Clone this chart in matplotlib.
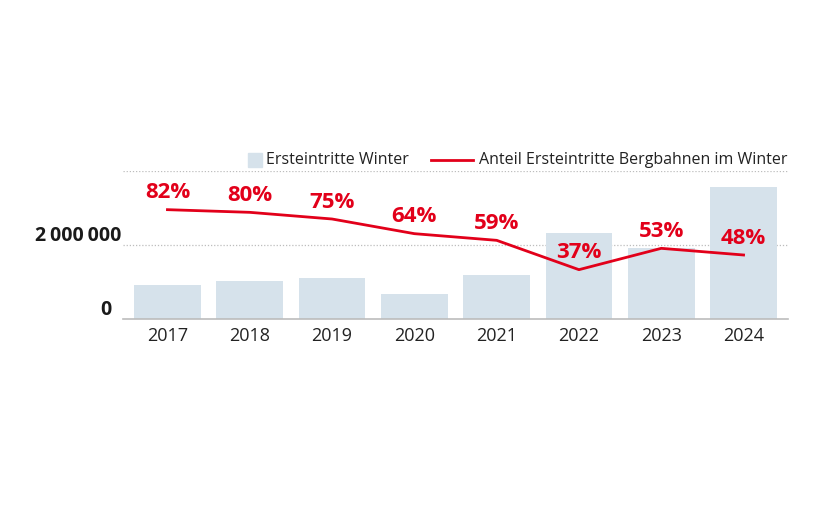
import matplotlib.pyplot as plt
from matplotlib.patches import Rectangle
from matplotlib.lines import Line2D

plt.rcParams['font.family'] = ['Open Sans', 'DejaVu Sans']

years = ['2017', '2018', '2019', '2020', '2021', '2022', '2023', '2024']
entries = [920000, 1030000, 1100000, 670000, 1190000, 2320000, 1910000, 3560000]
share = [82, 80, 75, 64, 59, 37, 53, 48]
yticks = [0, 2000000, 4000000]
ytick_labels = ['0', '2\u2009000\u2009000', '']

RED = '#e2001a'
BAR = '#d6e2eb'
W, H = 820, 513

fig = plt.figure(figsize=(8.2, 5.13), dpi=100)
ax = fig.add_axes([123 / W, 1 - 319 / H, (788 - 123) / W, (319 - 171) / H])
x = list(range(len(years)))

ax.bar(x, entries, width=0.81, color=BAR, zorder=2)
ax.set_xlim(-0.54, 7.54)
ax.set_ylim(0, 4000000)

for s in ['top', 'right', 'left']:
    ax.spines[s].set_visible(False)
ax.spines['bottom'].set_color('#bcbcbc')
ax.spines['bottom'].set_linewidth(1.2)

ax.set_xticks(x)
ax.set_xticklabels(years, fontsize=13, color='#222222')
ax.tick_params(axis='x', length=0, pad=6)
ax.set_yticks([])

for v, lab in zip(yticks, ytick_labels):
    if v > 0:
        ax.axhline(v, color='#bdbdbd', lw=0.9, ls=(0, (1, 1.5)), zorder=1)
    if lab:
        ax.annotate(lab, (0, v), xycoords=('axes fraction', 'data'),
                    xytext=(-2 if v else -11, -1), textcoords='offset pixels',
                    ha='right', va='bottom', fontsize=14,
                    fontweight='bold', color='#1a1a1a')

ax2 = ax.twinx()
ax2.set_ylim(0, 111)
ax2.set_axis_off()
ax2.plot(x, share, color=RED, lw=2, zorder=3)
for xi, p in zip(x, share):
    ax2.annotate(f'{p}%', (xi, p), xytext=(0, 17), textcoords='offset pixels',
                 ha='center', va='center', fontsize=16, fontweight='bold',
                 color=RED)

# legend, drawn by hand above the top gridline
ly = 1 - 160 / H
fig.patches.append(Rectangle((248 / W, 1 - 167 / H), 14 / W, 14 / H,
                             transform=fig.transFigure, color=BAR))
fig.text(266 / W, ly, 'Ersteintritte Winter', ha='left', va='center',
         fontsize=11.5, color='#222222')
fig.lines.append(Line2D([431 / W, 473 / W], [ly, ly], transform=fig.transFigure,
                        color=RED, lw=2))
fig.text(479 / W, ly, 'Anteil Ersteintritte Bergbahnen im Winter', ha='left',
         va='center', fontsize=11.5, color='#222222')

fig.savefig('out.png', dpi=100)
